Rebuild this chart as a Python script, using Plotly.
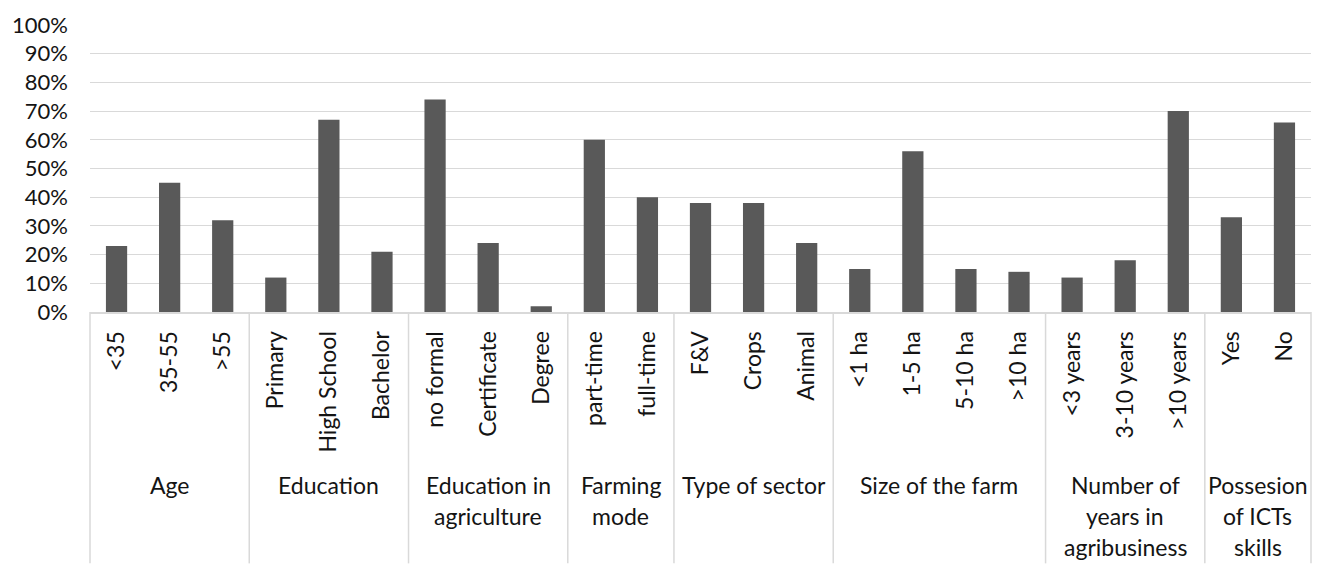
import plotly.graph_objects as go

# Survey profile: share of respondents per answer, grouped by question
categories = ["<35", "35-55", ">55",
              "Primary", "High School", "Bachelor",
              "no formal", "Certificate", "Degree",
              "part-time", "full-time",
              "F&V", "Crops", "Animal",
              "<1 ha", "1-5 ha", "5-10 ha", ">10 ha",
              "<3 years", "3-10 years", ">10 years",
              "Yes", "No"]
values = [0.23, 0.45, 0.32,
          0.12, 0.67, 0.21,
          0.74, 0.24, 0.02,
          0.60, 0.40,
          0.38, 0.38, 0.24,
          0.15, 0.56, 0.15, 0.14,
          0.12, 0.18, 0.70,
          0.33, 0.66]
group_labels = [["Age"],
                ["Education"],
                ["Education in", "agriculture"],
                ["Farming", "mode"],
                ["Type of sector"],
                ["Size of the farm"],
                ["Number of", "years in", "agribusiness"],
                ["Possesion", "of ICTs", "skills"]]
group_sizes = [3, 3, 3, 2, 3, 4, 3, 2]

W, H = 1322, 566
M_L, M_R, M_T, M_B = 90, 11, 22, 254
PLOT_H = H - M_T - M_B
TEXT = "#141414"
LINE = "#d9d9d9"
FONT = "Lato"

fig = go.Figure(go.Bar(
    x=categories, y=values,
    marker=dict(color="#595959", line=dict(width=0)),
    width=0.4,
))

def px_to_paper(px_below_axis):
    return -px_below_axis / PLOT_H

# Group dividers and group captions under the category labels
n = len(categories)
shapes = []
annotations = []
start = 0
bottom = px_to_paper(H - (M_T + PLOT_H))
for size, lines in zip(group_sizes, group_labels):
    x0 = start / n
    shapes.append(dict(type="line", xref="paper", yref="paper",
                       x0=x0, x1=x0, y0=0, y1=bottom,
                       line=dict(color=LINE, width=1.5)))
    centre = (start + size / 2) / n
    for k, line in enumerate(lines):
        annotations.append(dict(
            xref="paper", yref="paper", x=centre, y=px_to_paper(175 + 31 * k),
            text=line, showarrow=False, xanchor="center", yanchor="middle",
            font=dict(family=FONT, size=23, color=TEXT)))
    start += size
shapes.append(dict(type="line", xref="paper", yref="paper",
                   x0=1, x1=1, y0=0, y1=bottom,
                   line=dict(color=LINE, width=1.5)))

fig.update_layout(
    width=W, height=H,
    margin=dict(l=M_L, r=M_R, t=M_T, b=M_B),
    paper_bgcolor="white", plot_bgcolor="white",
    showlegend=False,
    bargap=0.6,
    font=dict(family=FONT, size=23, color=TEXT),
    shapes=shapes,
    annotations=annotations,
)
fig.update_xaxes(
    type="category",
    tickangle=-90,
    showline=True, linecolor=LINE, linewidth=2,
    showgrid=False, ticks="",
    ticklabelstandoff=8,
    tickfont=dict(family=FONT, size=23, color=TEXT),
)
fig.update_yaxes(
    range=[0, 1], dtick=0.1, tickformat=".0%",
    showgrid=True, gridcolor=LINE, gridwidth=1.3,
    zeroline=False, showline=False, ticks="",
    ticklabelstandoff=21,
    tickfont=dict(family=FONT, size=22, color=TEXT),
)

fig.write_html("out.html")
